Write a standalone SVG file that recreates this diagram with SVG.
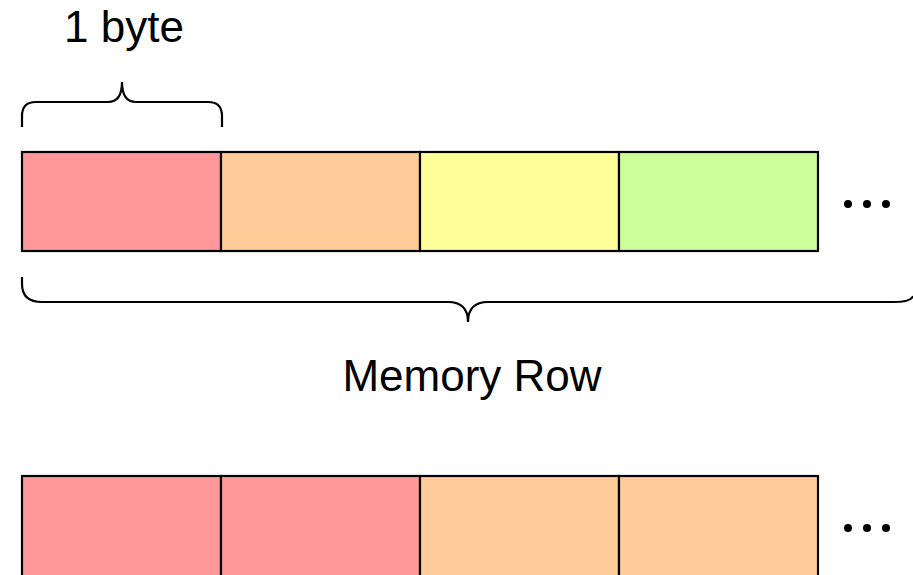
<svg xmlns="http://www.w3.org/2000/svg" width="913" height="575" viewBox="0 0 913 575">
<style>
.cell{stroke:#000;stroke-width:2.2}
.r{fill:#FF9999}.o{fill:#FFCC99}.y{fill:#FFFF99}.g{fill:#CCFF99}
.brace{fill:none;stroke:#000;stroke-width:2.2;stroke-linecap:butt}
.lbl{font-family:"Liberation Sans",Arial,sans-serif;font-size:44px;fill:#000;text-anchor:middle}
.dot{fill:#000}
</style>
<rect width="913" height="575" fill="#fff"/>
<g id="label-byte"><text class="lbl" x="124" y="42">1 byte</text></g>
<g id="connectors">
<path class="brace" d="M22,127 V116 Q22,102 36,102 H108 Q122,102 122,82 Q122,102 136,102 H208 Q222,102 222,116 V127"/>
<path class="brace" d="M22,277 V284 Q22,302 42,302 H448 Q468,302 468,322 Q468,302 488,302 H893 Q911,302 913,296"/>
</g>
<g id="row1">
<rect class="cell r" x="22" y="152" width="199" height="99"/>
<rect class="cell o" x="221" y="152" width="199" height="99"/>
<rect class="cell y" x="420" y="152" width="199" height="99"/>
<rect class="cell g" x="619" y="152" width="199" height="99"/>
<circle class="dot" cx="848" cy="204" r="4"/><circle class="dot" cx="867" cy="204" r="4"/><circle class="dot" cx="886" cy="204" r="4"/>
</g>
<g id="label-row"><text class="lbl" x="472" y="391">Memory Row</text></g>
<g id="row2">
<rect class="cell r" x="22" y="476" width="199" height="110"/>
<rect class="cell r" x="221" y="476" width="199" height="110"/>
<rect class="cell o" x="420" y="476" width="199" height="110"/>
<rect class="cell o" x="619" y="476" width="199" height="110"/>
<circle class="dot" cx="848" cy="528" r="4"/><circle class="dot" cx="867" cy="528" r="4"/><circle class="dot" cx="886" cy="528" r="4"/>
</g>
</svg>
